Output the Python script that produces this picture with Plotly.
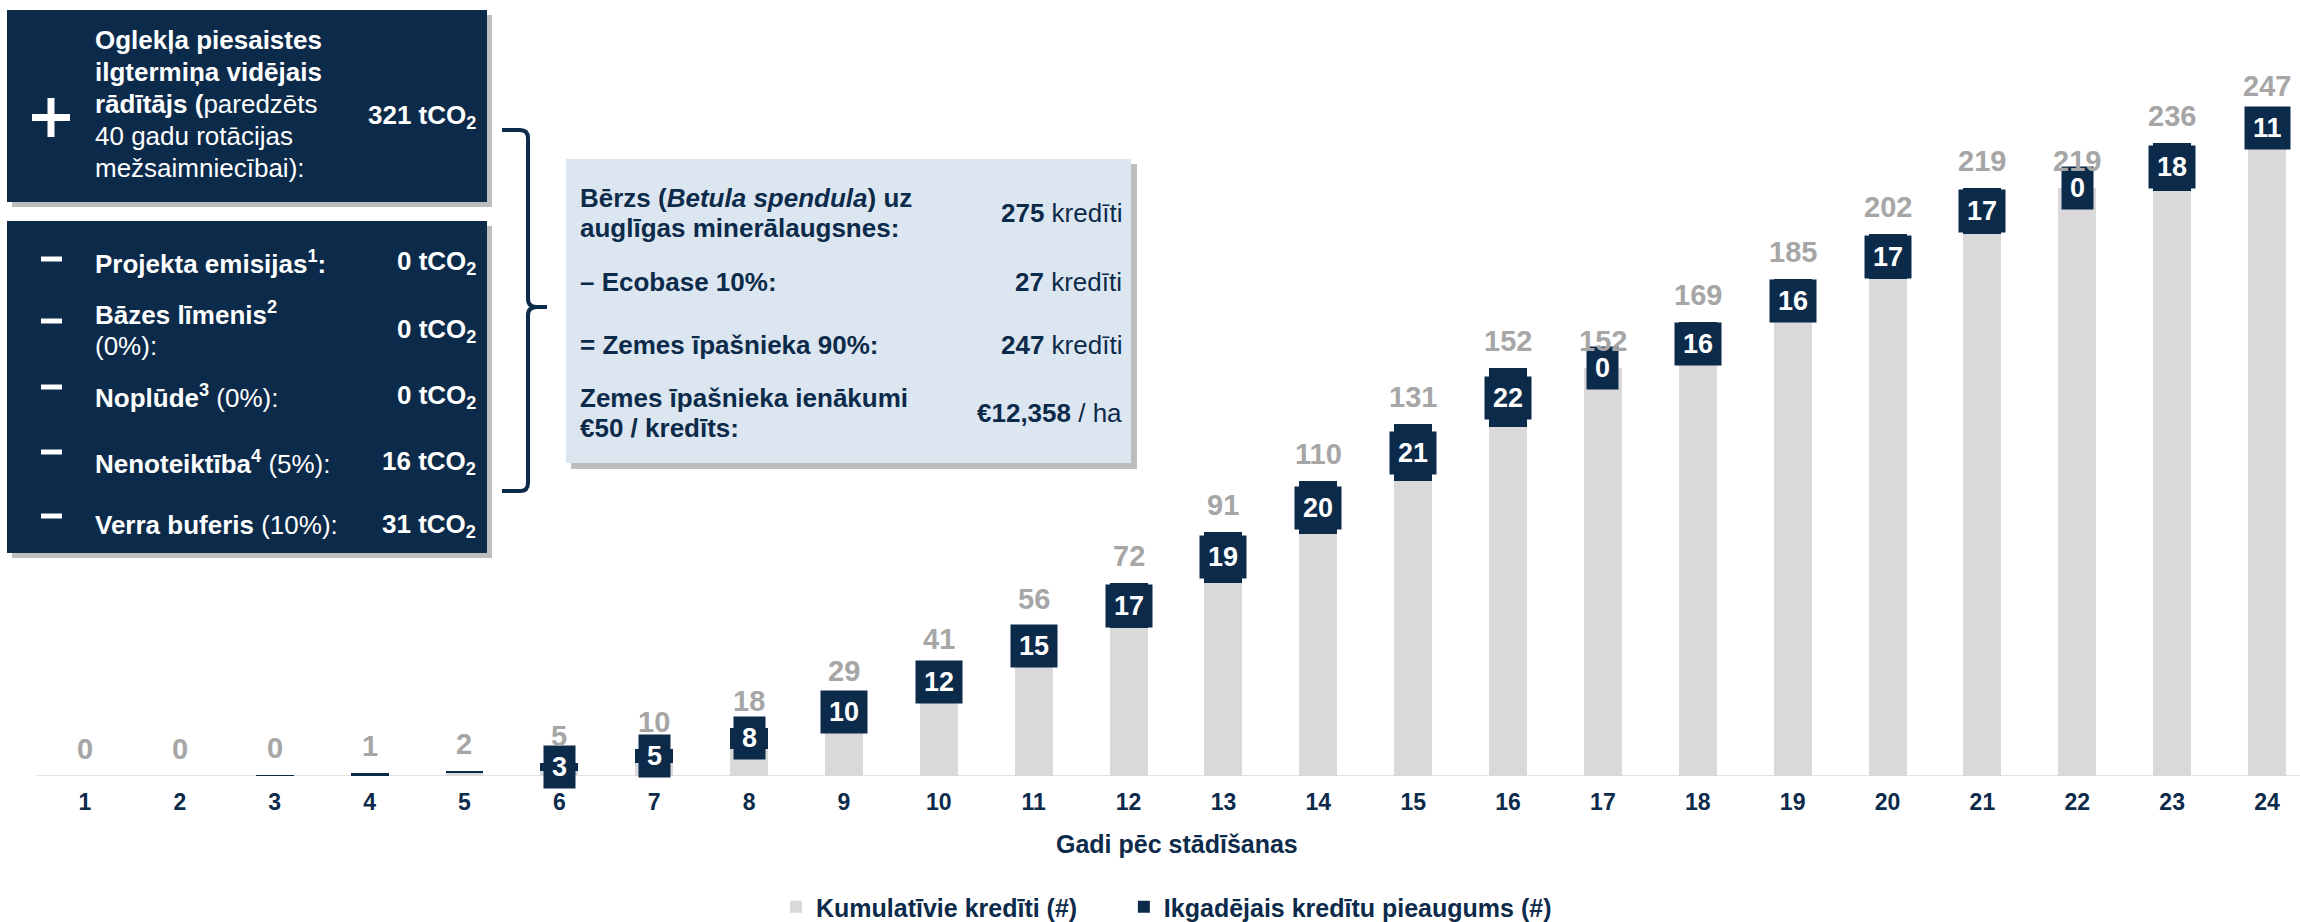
import plotly.graph_objects as go

# ---------------- data ----------------
years = list(range(1, 25))
cumulative = [0, 0, 0.3, 1, 2, 5, 10, 18, 29, 41, 56, 72, 91, 110, 131, 152, 152, 169, 185, 202, 219, 219, 236, 247]
increments = [0, 0, 0.3, 1, 1, 3, 5, 8, 10, 12, 15, 17, 19, 20, 21, 22, 0, 16, 16, 17, 17, 0, 18, 11]
first_labelled_year = 6

top_title_lines = ["<b>Oglekļa piesaistes</b>", "<b>ilgtermiņa vidējais</b>",
                   "<b>rādītājs (</b>paredzēts", "40 gadu rotācijas", "mežsaimniecībai):"]
top_value = "<b>321 tCO<sub>2</sub></b>"

deduction_labels = ["<b>Projekta emisijas<sup>1</sup>:</b>", "<b>Bāzes līmenis<sup>2</sup></b>|(0%):",
                    "<b>Noplūde<sup>3</sup></b> (0%):", "<b>Nenoteiktība<sup>4</sup></b> (5%):",
                    "<b>Verra buferis</b> (10%):"]
deduction_values = [0, 0, 0, 16, 31]

summary_labels = ["<b>Bērzs (<i>Betula spendula</i>) uz</b>|<b>auglīgas minerālaugsnes:</b>",
                  "<b>– Ecobase 10%:</b>",
                  "<b>= Zemes īpašnieka 90%:</b>",
                  "<b>Zemes īpašnieka ienākumi</b>|<b>€50 / kredīts:</b>"]
summary_values = ["<b>275</b> kredīti", "<b>27</b> kredīti", "<b>247</b> kredīti", "<b>€12,358</b> / ha"]

legend_names = ["Kumulatīvie kredīti (#)", "Ikgadējais kredītu pieaugums (#)"]
x_title = "Gadi pēc stādīšanas"

# ---------------- style ----------------
NAVY = "#0c2a4a"
GRAY = "#d9d9d9"
GRAYTXT = "#a6a6a6"
LIGHT = "#dce6f0"
FONT = "Liberation Sans, Arial, sans-serif"
W, H_PLOT, H = 2300, 776, 922
BOXFONT = 26
NBSP = "\u00a0"


def px(x):
    return x / W


def py(y):
    return (H_PLOT - y) / H_PLOT


fig = go.Figure()
fig.add_bar(x=years, y=cumulative, name=legend_names[0] + NBSP * 6,
            marker=dict(color=GRAY, line=dict(width=0)), width=0.4, hoverinfo="skip")
bases = [c - i for c, i in zip(cumulative, increments)]
fig.add_bar(x=years, y=increments, base=bases, name=legend_names[1],
            marker=dict(color=NAVY, line=dict(width=0)), width=0.4, hoverinfo="skip")

ann = []
shapes = []

# increment labels (dark boxes)
for yr, c, inc in zip(years, cumulative, increments):
    if yr >= first_labelled_year:
        ann.append(dict(x=yr, y=c - inc / 2, xref="x", yref="y", text=f"<b>{inc:g}</b>",
                        showarrow=False, font=dict(family=FONT, size=27, color="white"),
                        bgcolor=NAVY, borderpad=8, height=26, xanchor="center", yanchor="middle"))
# cumulative labels
for yr, c in zip(years, cumulative):
    ann.append(dict(x=yr, y=c, xref="x", yref="y", text=f"<b>{round(c)}</b>", showarrow=False,
                    font=dict(family=FONT, size=29, color=GRAYTXT), yanchor="middle", yshift=27))

# baseline
shapes.append(dict(type="line", xref="paper", yref="y", x0=px(37), x1=1, y0=0, y1=0,
                   line=dict(color="#e2e2e2", width=2), layer="below"))


def rect(x0, y0, x1, y1, color, layer="above"):
    shapes.append(dict(type="rect", xref="paper", yref="paper", x0=px(x0), x1=px(x1),
                       y0=py(y1), y1=py(y0), fillcolor=color, line=dict(width=0), layer=layer))


def text(x, y, t, size, color, anchor="left"):
    ann.append(dict(x=px(x), y=py(y), xref="paper", yref="paper", text=t, showarrow=False,
                    xanchor=anchor, yanchor="middle", font=dict(family=FONT, size=size, color=color)))


SHADOW = "rgba(70,70,70,0.35)"
# top box
rect(12, 15, 492, 207, SHADOW)
rect(7, 10, 487, 202, NAVY)
# plus sign
rect(32, 114, 70, 121, "white")
rect(47.5, 98, 54.5, 137, "white")
for i, line in enumerate(top_title_lines):
    text(93, 40 + 32 * i, line, BOXFONT, "white")
text(478, 116, top_value, BOXFONT, "white", "right")

# bottom box
rect(12, 226, 492, 558, SHADOW)
rect(7, 221, 487, 553, NAVY)
row_y = [262, 330, 396, 462, 525]
minus_y = [259, 321, 387, 452, 516]
for lab, val, yv, ym in zip(deduction_labels, deduction_values, row_y, minus_y):
    rect(41, ym - 2.5, 62, ym + 2.5, "white")
    parts = lab.split("|")
    if len(parts) == 2:
        text(93, yv - 17, parts[0], BOXFONT, "white")
        text(93, yv + 16, parts[1], BOXFONT, "white")
    else:
        text(93, yv, parts[0], BOXFONT, "white")
    text(478, yv, f"<b>{val} tCO<sub>2</sub></b>", BOXFONT, "white", "right")

# bracket
pts = lambda x, y: f"{px(x):.5f},{py(y):.5f}"
path = ("M " + pts(502, 130) + " L " + pts(520, 130) + " Q " + pts(528, 130) + " " + pts(528, 138) +
        " L " + pts(528, 299) + " Q " + pts(528, 307) + " " + pts(537, 307) + " L " + pts(547, 307) +
        " M " + pts(537, 307) + " Q " + pts(528, 307) + " " + pts(528, 315) +
        " L " + pts(528, 483) + " Q " + pts(528, 491) + " " + pts(520, 491) + " L " + pts(502, 491))
shapes.append(dict(type="path", xref="paper", yref="paper", path=path, line=dict(color=NAVY, width=4)))

# middle summary box
rect(571, 164, 1137, 469, SHADOW)
rect(566, 159, 1131, 463, LIGHT)
sum_y = [213, 282, 345, 413]
for lab, val, yv in zip(summary_labels, summary_values, sum_y):
    parts = lab.split("|")
    if len(parts) == 2:
        text(578, yv - 15, parts[0], BOXFONT, NAVY)
        text(578, yv + 15, parts[1], BOXFONT, NAVY)
    else:
        text(578, yv, parts[0], BOXFONT, NAVY)
    text(1124, yv, val, BOXFONT, NAVY, "right")

# axis title
text(1177, 844, f"<b>{x_title}</b>", 25, NAVY, "center")

x0 = 1 - 85 / 94.87
x1 = 1 + (W - 85) / 94.87

fig.update_layout(
    width=W, height=H, barmode="overlay", bargap=0,
    paper_bgcolor="white", plot_bgcolor="white",
    margin=dict(l=0, r=0, t=0, b=H - H_PLOT, pad=0, autoexpand=False),
    showlegend=True,
    legend=dict(orientation="h", x=px(776), xanchor="left", y=py(907), yanchor="middle",
                font=dict(family=FONT, size=25, color=NAVY, weight="bold"), traceorder="normal",
                bgcolor="rgba(0,0,0,0)"),
    xaxis=dict(range=[x0, x1], tickmode="array", tickvals=years, ticktext=[str(y) for y in years],
               showgrid=False, zeroline=False, showline=False, ticks="", ticklabelstandoff=10,
               tickfont=dict(family=FONT, size=23, color=NAVY, weight="bold"), fixedrange=True),
    yaxis=dict(range=[0, H_PLOT / 2.684], visible=False, fixedrange=True),
    annotations=ann, shapes=shapes,
)

fig.write_html("out.html", config={"displayModeBar": False},
               post_script="document.body.style.margin='0px';document.body.style.overflow='hidden';")
